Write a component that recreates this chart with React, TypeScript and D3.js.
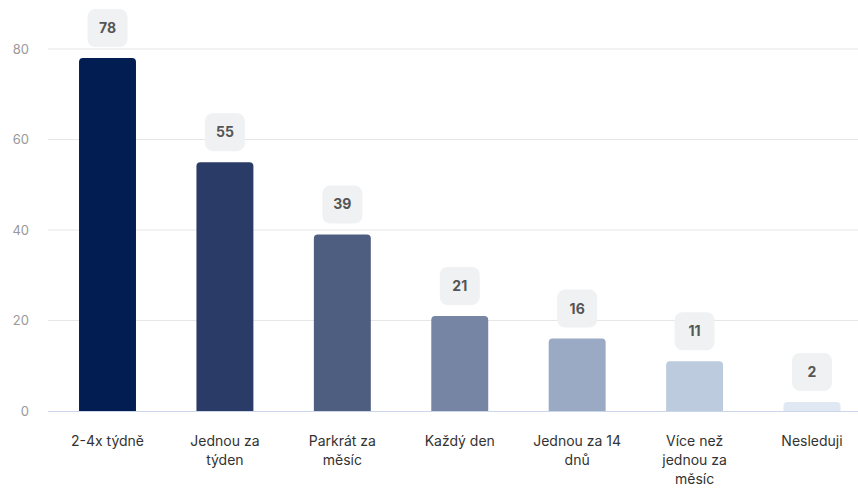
import React from "react";
import * as d3 from "d3";

const categories = ["2-4x týdně", "Jednou za týden", "Parkrát za měsíc", "Každý den", "Jednou za 14 dnů", "Více než jednou za měsíc", "Nesleduji"];
const tickLabelLines = [["2-4x týdně"], ["Jednou za", "týden"], ["Parkrát za", "měsíc"], ["Každý den"], ["Jednou za 14", "dnů"], ["Více než", "jednou za", "měsíc"], ["Nesleduji"]];
const values = [78, 55, 39, 21, 16, 11, 2];
const colors = ["#021d51", "#2a3b68", "#4e5e80", "#7585a3", "#9aaac5", "#bccbdd", "#dfe8f3"];
const yTicks = [0, 20, 40, 60, 80];

const W = 858;
const H = 488;

export default function App() {
  const x = d3.scaleBand<string>().domain(categories).range([48.8, 870.7]).paddingInner(0.515).paddingOuter(0.2575);
  const y = d3.scaleLinear().domain([0, 80]).range([411, 49]);
  const font = "Inter, 'Noto Sans', sans-serif";
  const r = 4;
  const barPath = (x0: number, w: number, yTop: number, yBot: number) => {
    const p = d3.path();
    const rr = Math.min(r, (yBot - yTop));
    p.moveTo(x0, yBot);
    p.lineTo(x0, yTop + rr);
    p.quadraticCurveTo(x0, yTop, x0 + rr, yTop);
    p.lineTo(x0 + w - rr, yTop);
    p.quadraticCurveTo(x0 + w, yTop, x0 + w, yTop + rr);
    p.lineTo(x0 + w, yBot);
    p.closePath();
    return p.toString();
  };
  return (
    <svg width={W} height={H} style={{ position: "absolute", left: 0, top: 0, display: "block" }} fontFamily={font}>
      <rect width={W} height={H} fill="#ffffff" />
      {yTicks.map((t) => (
        <g key={t}>
          {t !== 0 && <line x1={48} x2={858} y1={y(t)} y2={y(t)} stroke="#e6e6e6" strokeWidth={1} />}
          <text x={29} y={y(t)} dy="0.35em" textAnchor="end" fontSize={13} fill="#999999">{t}</text>
        </g>
      ))}
      {categories.map((c, i) => {
        const x0 = x(c)!;
        const w = x.bandwidth();
        const yt = y(values[i]);
        const cx = x0 + w / 2;
        return (
          <g key={c}>
            <path d={barPath(x0, w, yt, y(0))} fill={colors[i]} />
            <rect x={cx - 20} y={yt - 49} width={40} height={38} rx={8} fill="#f0f1f2" />
            <text x={cx} y={yt - 30} dy="0.35em" textAnchor="middle" fontSize={14} fontWeight={700} fill="#555555">{values[i]}</text>
            {tickLabelLines[i].map((ln, j) => (
              <text key={j} x={cx} y={441 + j * 19} dy="0.35em" textAnchor="middle" fontSize={14} fill="#333333">{ln}</text>
            ))}
          </g>
        );
      })}
      <line x1={48} x2={858} y1={y(0) + 0.5} y2={y(0) + 0.5} stroke="#ccd6eb" strokeWidth={1} />
    </svg>
  );
}
